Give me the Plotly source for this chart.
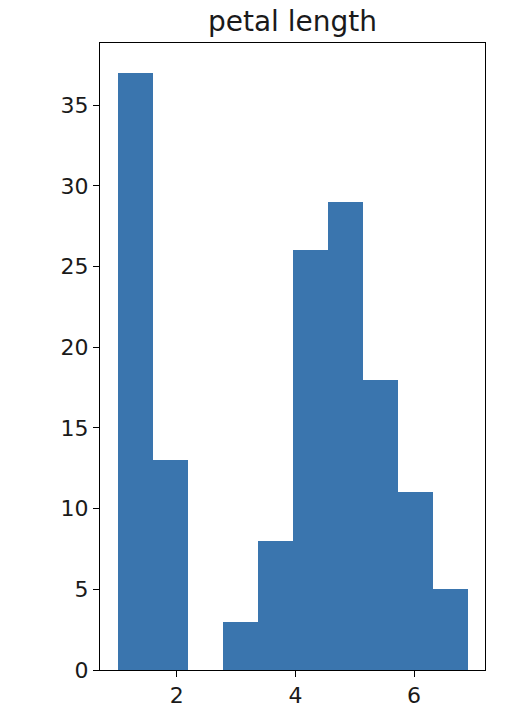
import plotly.graph_objects as go

# Histogram of petal length (10 bins)
bin_edges = [1.0, 1.59, 2.18, 2.77, 3.36, 3.95, 4.54, 5.13, 5.72, 6.31, 6.9]
counts = [37, 13, 0, 3, 8, 26, 29, 18, 11, 5]
title_text = "petal length"
y_ticks = [0, 5, 10, 15, 20, 25, 30, 35]
x_ticks = [2, 4, 6]

lefts = bin_edges[:-1]
widths = [b - a for a, b in zip(bin_edges[:-1], bin_edges[1:])]

W, H = 516, 726
L, R, T, B = 100, 31, 43, 56

fig = go.Figure(
    go.Bar(
        x=lefts,
        y=counts,
        width=widths,
        offset=0,
        marker=dict(color="#3a75ae", line=dict(width=0)),
        hoverinfo="skip",
    )
)

span = bin_edges[-1] - bin_edges[0]
xr = [bin_edges[0] - 0.05 * span, bin_edges[-1] + 0.05 * span]
yr = [0, max(counts) * 1.05]

font = dict(family="DejaVu Sans", size=22, color="#1a1a1a")
axis_common = dict(
    showline=True, linecolor="black", linewidth=1, mirror=True,
    ticks="outside", ticklen=6, tickwidth=1, tickcolor="black",
    showgrid=False, zeroline=False, tickfont=font,
)
fig.update_layout(
    width=W, height=H,
    margin=dict(l=L, r=R, t=T, b=B),
    plot_bgcolor="white", paper_bgcolor="white",
    showlegend=False, bargap=0,
    title=dict(text=title_text, x=(L + (W - R)) / 2 / W, xanchor="center",
               y=1 - 21 / H, yanchor="middle", yref="container",
               font=dict(family="DejaVu Sans", size=28, color="#1a1a1a")),
    xaxis=dict(range=xr, tickvals=x_ticks, **axis_common),
    yaxis=dict(range=yr, tickvals=y_ticks, **axis_common),
)

fig.write_html("out.html", config={"displayModeBar": False, "staticPlot": True},
               post_script="document.body.style.margin='0';")
